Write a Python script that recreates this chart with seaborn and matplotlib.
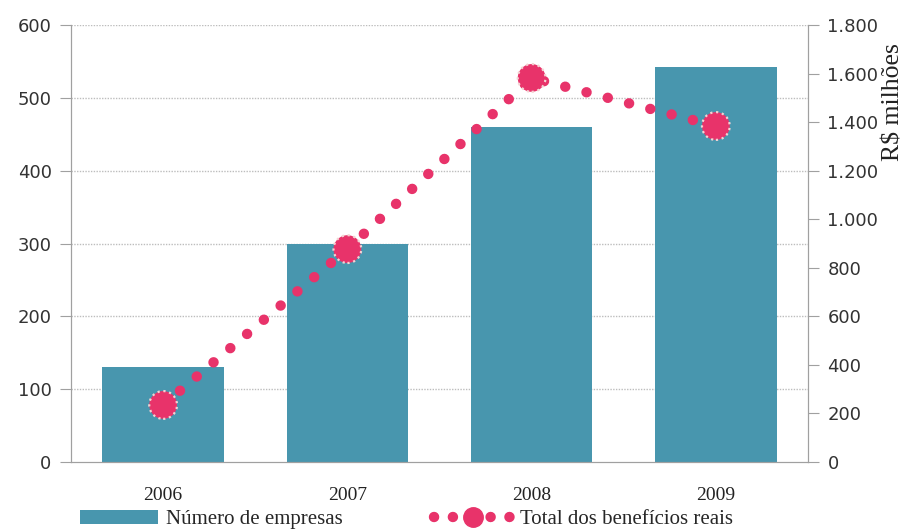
import numpy as np
import pandas as pd
import matplotlib
matplotlib.use("Agg")
import matplotlib.pyplot as plt
import seaborn as sns
from matplotlib.lines import Line2D
from matplotlib.patches import Patch

anos = ["2006", "2007", "2008", "2009"]
num_empresas = [130, 300, 460, 543]
beneficios = [235, 877, 1582, 1384]  # R$ milhões

bar_color = "#4896AE"
dot_color = "#E8336A"
grid_color = "#BDBDBD"

sns.set_style("white")
plt.rcParams['font.family'] = ['DejaVu Sans']

df = pd.DataFrame({"ano": anos, "empresas": num_empresas, "beneficios": beneficios})
df["pos"] = np.arange(len(anos))

fig = plt.figure(figsize=(9.06, 5.30), dpi=100)
ax = fig.add_axes([0.0784, 0.1283, 0.8134, 0.8245])

sns.barplot(data=df, x="ano", y="empresas", color=bar_color, saturation=1,
            width=0.66, edgecolor="none", ax=ax, zorder=2)
ax.set_xlim(-0.5, 3.5)
ax.set_ylim(0, 600)
ax.set_yticks(range(0, 601, 100))
for v in range(100, 601, 100):
    ax.axhline(v, color=grid_color, lw=1, ls=(0, (1, 1)), zorder=1)

dots = (0, (0.01, 2.1))
ax2 = ax.twinx()
sns.lineplot(data=df, x="pos", y="beneficios", ax=ax2, color=dot_color,
             linewidth=7.5, linestyle=dots, dash_capstyle="round", zorder=3)
sns.scatterplot(data=df, x="pos", y="beneficios", ax=ax2, color=dot_color,
                s=400, edgecolor="#F4D3D3", linewidth=1.6, linestyle=":", zorder=4)
ax2.set_ylim(0, 1800)
ax2.set_yticks(range(0, 1801, 200))
ax2.set_yticklabels([f"{v:,}".replace(",", ".") for v in range(0, 1801, 200)])
ax2.set_xlim(-0.5, 3.5)
ax2.set_xlabel("")
ax2.set_ylabel("")
ax.set_xlabel("")
ax.set_ylabel("")

for a in (ax, ax2):
    for s in a.spines.values():
        s.set_color("#A0A0A0")
    a.spines["top"].set_visible(False)

ax.tick_params(axis="y", direction="out", length=8, color="#A0A0A0",
               labelsize=13, labelcolor="#333333", pad=6)
ax2.tick_params(axis="y", direction="out", length=8, color="#A0A0A0",
                labelsize=13, labelcolor="#333333", pad=6)
ax.set_xticks(range(4))
ax.set_xticklabels(anos, fontfamily="Liberation Serif", fontsize=14)
ax.tick_params(axis="x", length=0, pad=18, labelcolor="#222222")
ax.set_xticks(np.arange(-0.5, 4, 1), minor=True)
ax.tick_params(axis="x", which="minor", direction="out", length=8, color="#A0A0A0")

fig.text(0.986, 0.807, "R$ milhões", rotation=90, ha="center", va="center",
         fontfamily="Liberation Serif", fontsize=18.5, color="#222222")

handles = [
    Patch(facecolor=bar_color, edgecolor="none"),
    Line2D([0], [0], color=dot_color, lw=7.5, ls=(0, (0.01, 1.8)),
           dash_capstyle="round", marker="o", markersize=14,
           markerfacecolor=dot_color, markeredgecolor=dot_color),
]
fig.legend(handles, ["Número de empresas", "Total dos benefícios reais"],
           loc="lower left", bbox_to_anchor=(0.068, -0.034), ncol=2, frameon=False,
           prop={"family": "Liberation Serif", "size": 15}, handlelength=3.75,
           handleheight=0.7, columnspacing=4.4, handletextpad=0.35)

fig.savefig("out.png", dpi=100)
